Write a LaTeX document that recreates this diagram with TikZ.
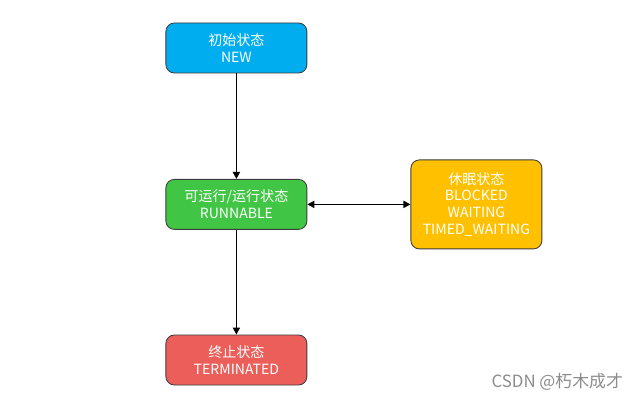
\documentclass[tikz,border=0pt]{standalone}
\usepackage{fontspec}
\setmainfont{Noto Sans CJK SC}
\usetikzlibrary{arrows.meta}
\definecolor{newblue}{RGB}{0,174,239}
\definecolor{runnablegreen}{RGB}{64,198,68}
\definecolor{blockedyellow}{RGB}{255,192,0}
\definecolor{termred}{RGB}{235,94,90}
\definecolor{boxborder}{RGB}{60,60,60}
\begin{document}
\begin{tikzpicture}[
        state/.style={draw=boxborder,line width=0.6pt,rounded corners=6pt,text=white,
            align=center,font=\fontsize{10}{12}\selectfont,minimum width=3.525cm,minimum height=1.25cm},
        flow/.style={line width=1.2pt,-{Triangle[length=5pt,width=5pt]}}
    ]
        \useasboundingbox[fill=white] (0,0) rectangle (16,-10);
        \node[state,fill=newblue] (new) at (5.91,-1.2) {初始状态\\NEW};
        \node[state,fill=runnablegreen] (runnable) at (5.91,-5.11) {可运行/运行状态\\RUNNABLE};
        \node[state,fill=blockedyellow,minimum width=3.275cm,minimum height=2.225cm] (blocked) at (11.91,-5.11)
            {休眠状态\\BLOCKED\\WAITING\\TIMED\_WAITING};
        \node[state,fill=termred] (terminated) at (5.91,-9.0) {终止状态\\TERMINATED};
        \draw[flow] (new) -- (runnable);
        \draw[flow] (runnable) -- (terminated);
        \draw[flow,{Triangle[length=5pt,width=5pt]}-{Triangle[length=5pt,width=5pt]}] (runnable) -- (blocked);
        \node[text=black!45,font=\fontsize{12}{14}\selectfont] (mark) at (13.93,-9.55) {CSDN @朽木成才};
    \end{tikzpicture}
\end{document}
